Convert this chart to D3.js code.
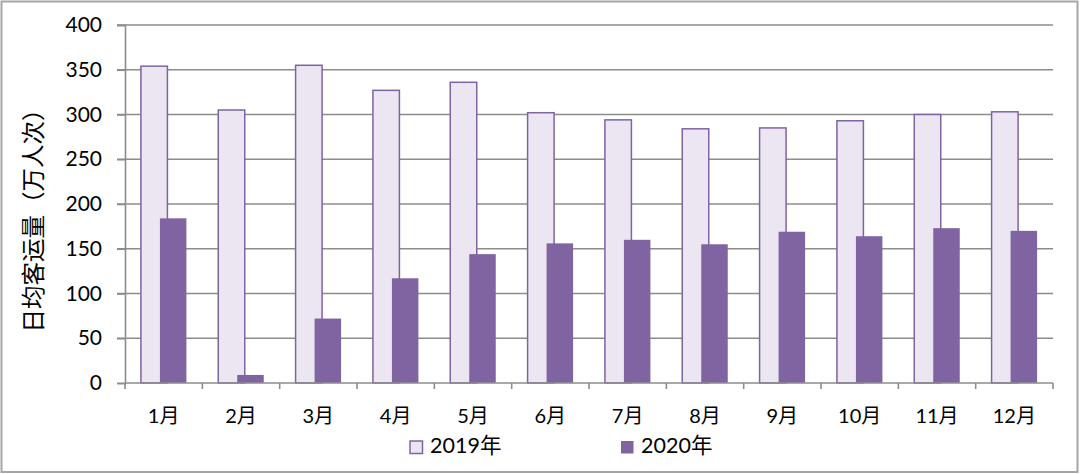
<!DOCTYPE html>
<html><head><meta charset="utf-8">
<script src="https://cdn.jsdelivr.net/npm/d3@7"></script>
<style>body{margin:0;background:#fff}svg{display:block}</style>
</head><body>
<script>
const months = ["1月","2月","3月","4月","5月","6月","7月","8月","9月","10月","11月","12月"];
const values2019 = [354,305,355,327,336,302,294,284,285,293,300,303];
const values2020 = [184,9,72,117,144,156,160,155,169,164,173,170];
const seriesNames = ["2019年","2020年"];
const yTicks = [0,50,100,150,200,250,300,350,400];
const yTitle = "日均客运量（万人次）";

(function(){
const W=1080,H=474;
const font = "Lato, 'Noto Sans CJK SC', sans-serif";
const svg = d3.select("body").append("svg").attr("width",W).attr("height",H);
svg.append("rect").attr("x",1.5).attr("y",1.5).attr("width",W-4).attr("height",H-3.5)
  .attr("fill","#fff").attr("stroke","#a6a6a6").attr("stroke-width",2);

const pL=125,pR=1053,pT=25,pB=383;
const x = d3.scaleBand().domain(months).range([pL,pR]);
const y = d3.scaleLinear().domain([0,400]).range([pB,pT]);

const grid = svg.append("g");
grid.selectAll("line").data(yTicks.filter(d=>d>0)).join("line")
  .attr("x1",pL-8).attr("x2",pR).attr("y1",d=>y(d)).attr("y2",d=>y(d))
  .attr("stroke","#8c8c8c").attr("stroke-width",1.6);

const yAxis = d3.axisLeft(y).tickValues(yTicks).tickSize(8).tickPadding(15);
const gy = svg.append("g").attr("transform",`translate(${pL},0)`).call(yAxis);
gy.select(".domain").attr("stroke","#8c8c8c").attr("stroke-width",1.6);
gy.selectAll(".tick line").attr("stroke","#8c8c8c").attr("stroke-width",1.6);
gy.selectAll("text").attr("font-family",font).attr("font-size",21).attr("fill","#000");

const bw = 26.5, off = 19;
const g19 = svg.append("g");
g19.selectAll("rect").data(values2019).join("rect")
  .attr("x",(d,i)=>x(months[i])+x.bandwidth()/2-(bw+off)/2)
  .attr("y",d=>y(d)).attr("width",bw).attr("height",d=>pB-y(d))
  .attr("fill","#ebe6f1").attr("stroke","#8064a2").attr("stroke-width",1.5);
const g20 = svg.append("g");
g20.selectAll("rect").data(values2020).join("rect")
  .attr("x",(d,i)=>x(months[i])+x.bandwidth()/2-(bw+off)/2+off)
  .attr("y",d=>y(d)).attr("width",bw).attr("height",d=>pB-y(d))
  .attr("fill","#8064a2");

const gx = svg.append("g").attr("transform",`translate(0,${pB})`);
gx.append("line").attr("x1",pL).attr("x2",pR).attr("stroke","#8c8c8c").attr("stroke-width",1.6);
const bounds = months.map(m=>x(m)).concat([pR]);
gx.selectAll("line.t").data(bounds).join("line").attr("class","t")
  .attr("x1",d=>d).attr("x2",d=>d).attr("y1",0).attr("y2",6)
  .attr("stroke","#8c8c8c").attr("stroke-width",1.6);
gx.selectAll("text").data(months).join("text")
  .attr("x",d=>x(d)+x.bandwidth()/2).attr("y",40).attr("text-anchor","middle")
  .attr("font-family",font).attr("font-size",20).attr("fill","#000").text(d=>d);

svg.append("text").attr("transform",`translate(42,215) rotate(-90)`)
  .attr("text-anchor","middle").attr("font-family",font).attr("font-size",23.5).attr("fill","#000").text(yTitle);

const lg = svg.append("g");
const lx = [410,621];
seriesNames.forEach((n,i)=>{
  lg.append("rect").attr("x",lx[i]).attr("y",441).attr("width",12.5).attr("height",12.5)
    .attr("fill",i===0?"#ebe6f1":"#8064a2").attr("stroke",i===0?"#8064a2":"none").attr("stroke-width",1.5);
  lg.append("text").attr("x",lx[i]+20).attr("y",453).attr("font-family",font).attr("font-size",21.5).attr("fill","#000").text(n);
});
})();
</script>
</body></html>
